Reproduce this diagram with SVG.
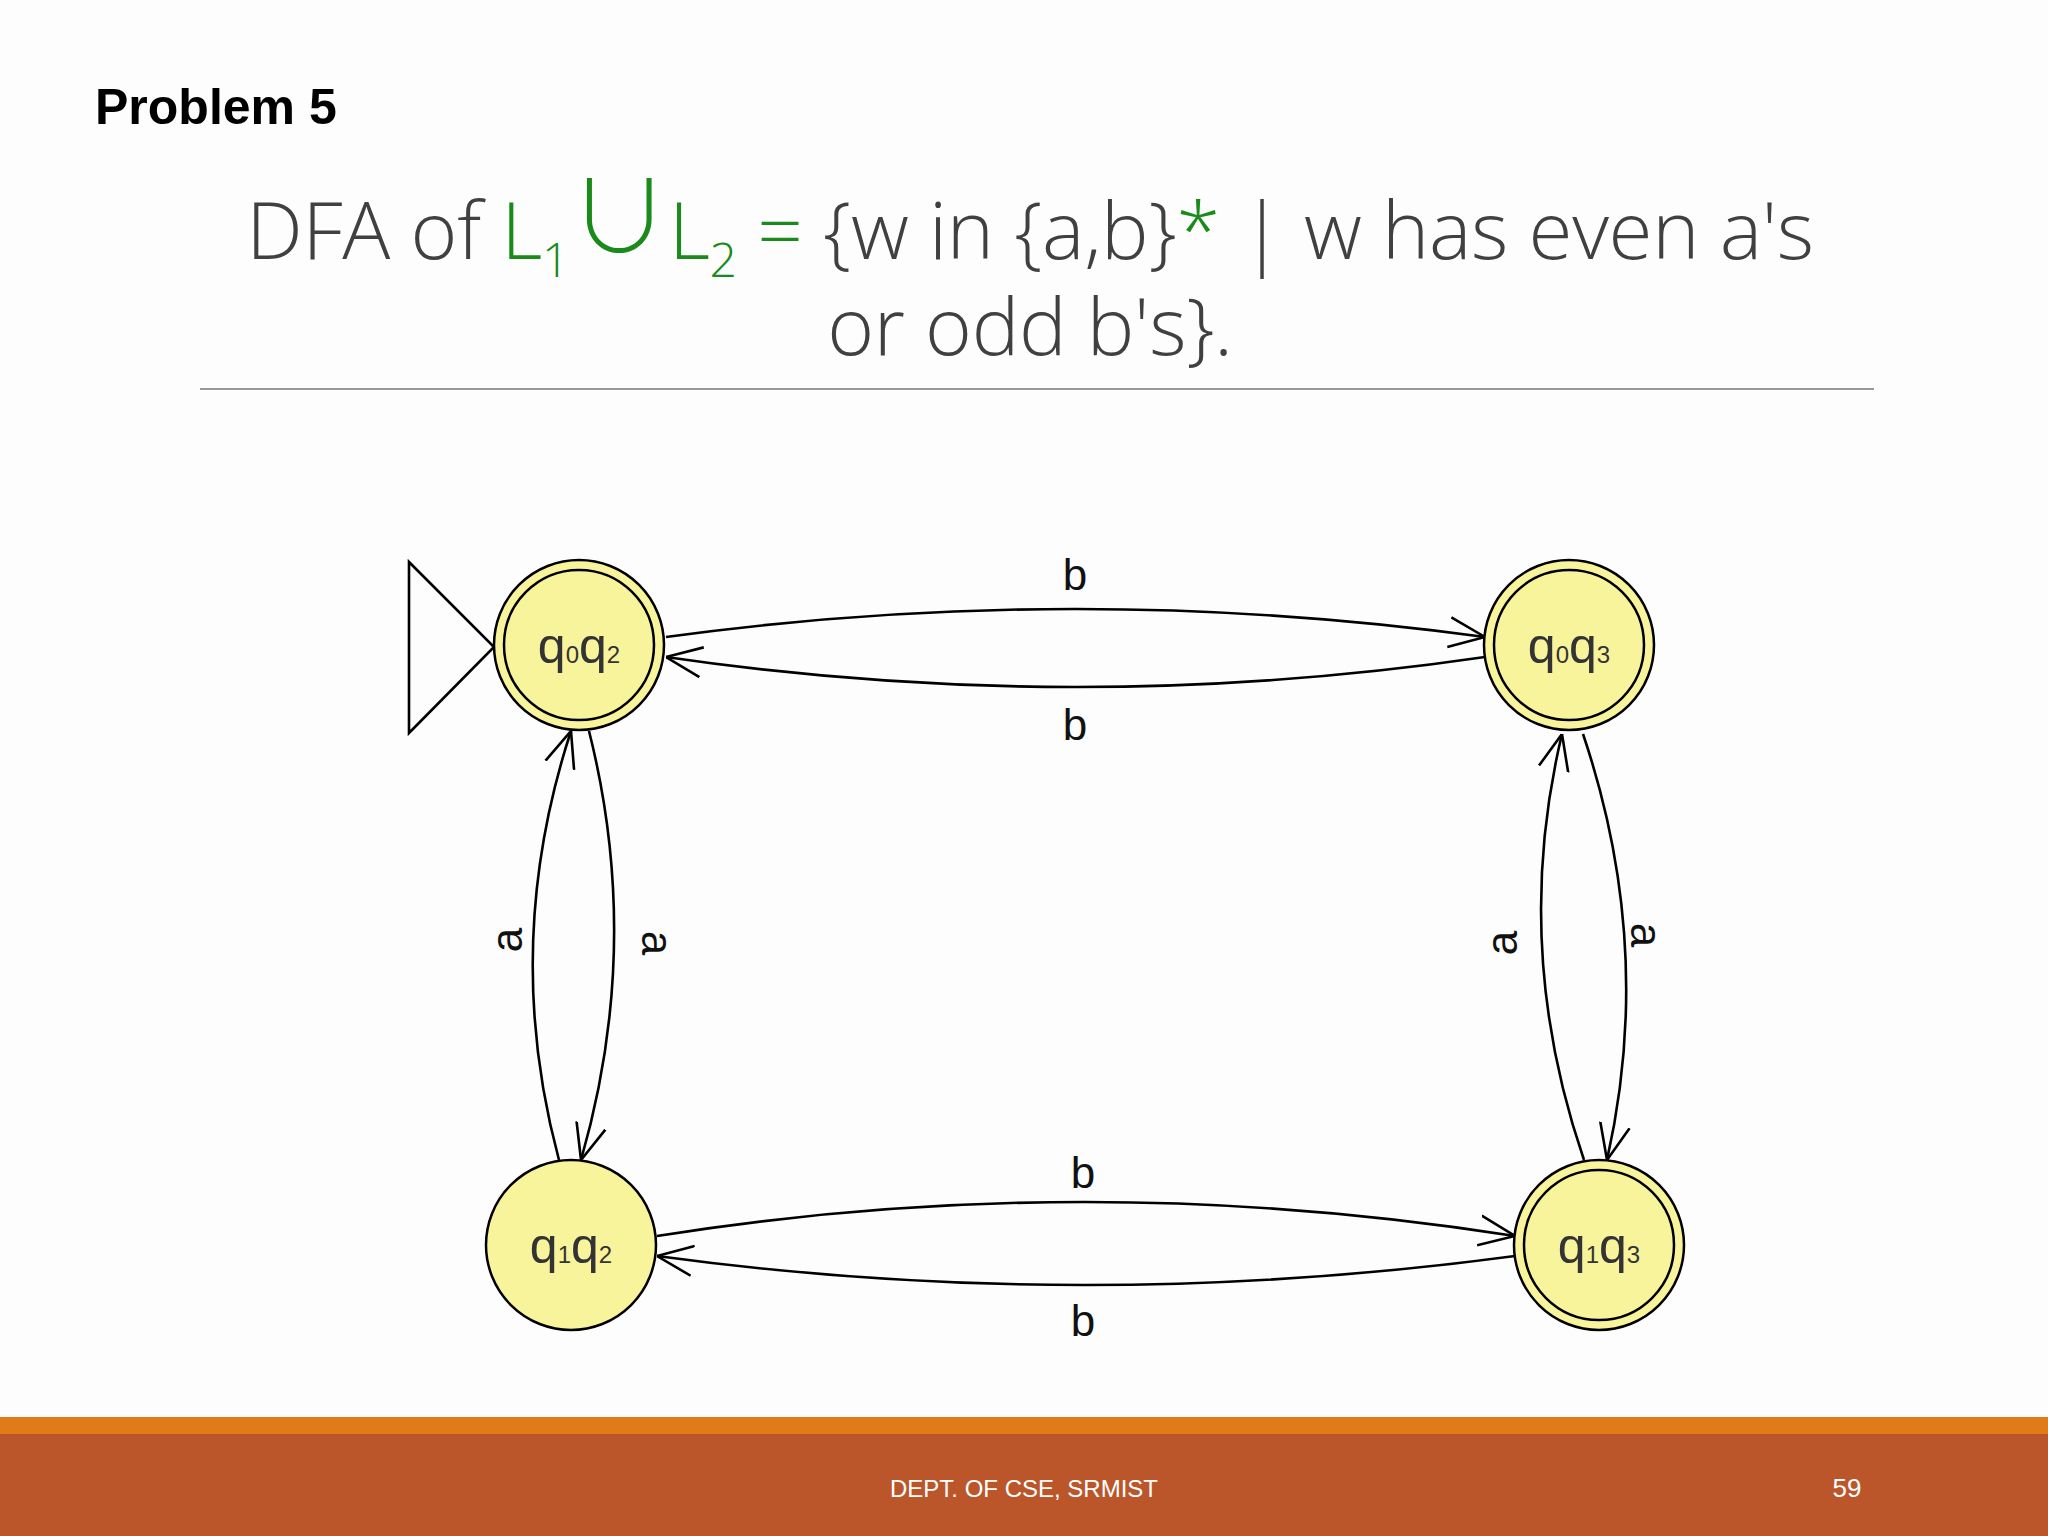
<svg xmlns="http://www.w3.org/2000/svg" width="2048" height="1536" viewBox="0 0 2048 1536">
<defs>
<marker id="ah" viewBox="0 0 36 36" refX="36" refY="18" markerWidth="36" markerHeight="36" markerUnits="userSpaceOnUse" orient="auto">
<path d="M0,3 L36,18 L0,33" fill="none" stroke="#000" stroke-width="2.6"/>
</marker>
</defs>
<style>
.e{fill:none;stroke:#000;stroke-width:2.6;marker-end:url(#ah)}
.n{fill:#f8f49c;stroke:#000;stroke-width:2.5}
.lbl{font-family:"Liberation Sans",Arial,sans-serif;font-size:44px;fill:#111;text-anchor:middle}
.st{font-family:"Liberation Sans",Arial,sans-serif;font-size:50px;fill:#333;text-anchor:middle}
.sub{font-size:24px}
</style>
<rect width="2048" height="1536" fill="#fdfdfd"/>
<text x="95" y="124" font-family="Liberation Sans,Arial,sans-serif" font-weight="bold" font-size="50" fill="#000">Problem 5</text>
<text x="1030" y="259" text-anchor="middle" font-family="Open Sans,sans-serif" font-weight="300" font-size="80" fill="#404040" letter-spacing="-0.3">DFA of <tspan fill="#1a8a1a">L<tspan font-size="48" dy="18">1</tspan><tspan dy="-24" font-size="100" font-family="Noto Sans CJK SC,sans-serif" font-weight="300">∪</tspan><tspan dy="6">L</tspan><tspan font-size="48" dy="18">2</tspan><tspan dy="-18"> =</tspan></tspan> {w in {a,b}<tspan fill="#1a8a1a">*</tspan> | w has even a's</text>
<text x="1030" y="355" text-anchor="middle" font-family="Open Sans,sans-serif" font-weight="300" font-size="80" fill="#404040" letter-spacing="-0.3">or odd b's}.</text>
<line x1="200" y1="389" x2="1874" y2="389" stroke="#999" stroke-width="2"/>
<g id="connectors">
<path class="e" d="M666,637 Q1075,581 1485,637"/>
<path class="e" d="M1485,657 Q1075,717 666,657"/>
<path class="e" d="M657,1236 Q1083,1168 1515,1236"/>
<path class="e" d="M1515,1256 Q1083,1314 657,1256"/>
<path class="e" d="M559,1160 Q501,945 571,731"/>
<path class="e" d="M589,731 Q643,945 581,1160"/>
<path class="e" d="M1584,1160 Q1511,947 1562,734"/>
<path class="e" d="M1583,734 Q1655,947 1607,1160"/>
<polygon points="409,562 409,733 494,647" fill="none" stroke="#000" stroke-width="2.6"/>
<text class="lbl" x="1075" y="590">b</text>
<text class="lbl" x="1075" y="740">b</text>
<text class="lbl" x="1083" y="1188">b</text>
<text class="lbl" x="1083" y="1336">b</text>
<text class="lbl" transform="translate(507,940) rotate(-90)" y="15">a</text>
<text class="lbl" transform="translate(657,943) rotate(90)" y="15">a</text>
<text class="lbl" transform="translate(1502,943) rotate(-90)" y="15">a</text>
<text class="lbl" transform="translate(1646,935) rotate(90)" y="15">a</text>
</g>
<g id="q0q2"><circle class="n" cx="579" cy="645" r="85"/><circle cx="579" cy="645" r="75" fill="none" stroke="#000" stroke-width="2.5"/><text class="st" x="579" y="663">q<tspan class="sub">0</tspan>q<tspan class="sub">2</tspan></text></g>
<g id="q0q3"><circle class="n" cx="1569" cy="645" r="85"/><circle cx="1569" cy="645" r="75" fill="none" stroke="#000" stroke-width="2.5"/><text class="st" x="1569" y="663">q<tspan class="sub">0</tspan>q<tspan class="sub">3</tspan></text></g>
<g id="q1q2"><circle class="n" cx="571" cy="1245" r="85"/><text class="st" x="571" y="1263">q<tspan class="sub">1</tspan>q<tspan class="sub">2</tspan></text></g>
<g id="q1q3"><circle class="n" cx="1599" cy="1245" r="85"/><circle cx="1599" cy="1245" r="75" fill="none" stroke="#000" stroke-width="2.5"/><text class="st" x="1599" y="1263">q<tspan class="sub">1</tspan>q<tspan class="sub">3</tspan></text></g>
<rect x="0" y="1417" width="2048" height="17" fill="#e07b1a"/>
<rect x="0" y="1434" width="2048" height="102" fill="#bb562b"/>
<text x="1024" y="1497" text-anchor="middle" font-family="Liberation Sans,Arial,sans-serif" font-size="24" fill="#fff">DEPT. OF CSE, SRMIST</text>
<text x="1847" y="1497" text-anchor="middle" font-family="Liberation Sans,Arial,sans-serif" font-size="26" fill="#fff">59</text>
</svg>
